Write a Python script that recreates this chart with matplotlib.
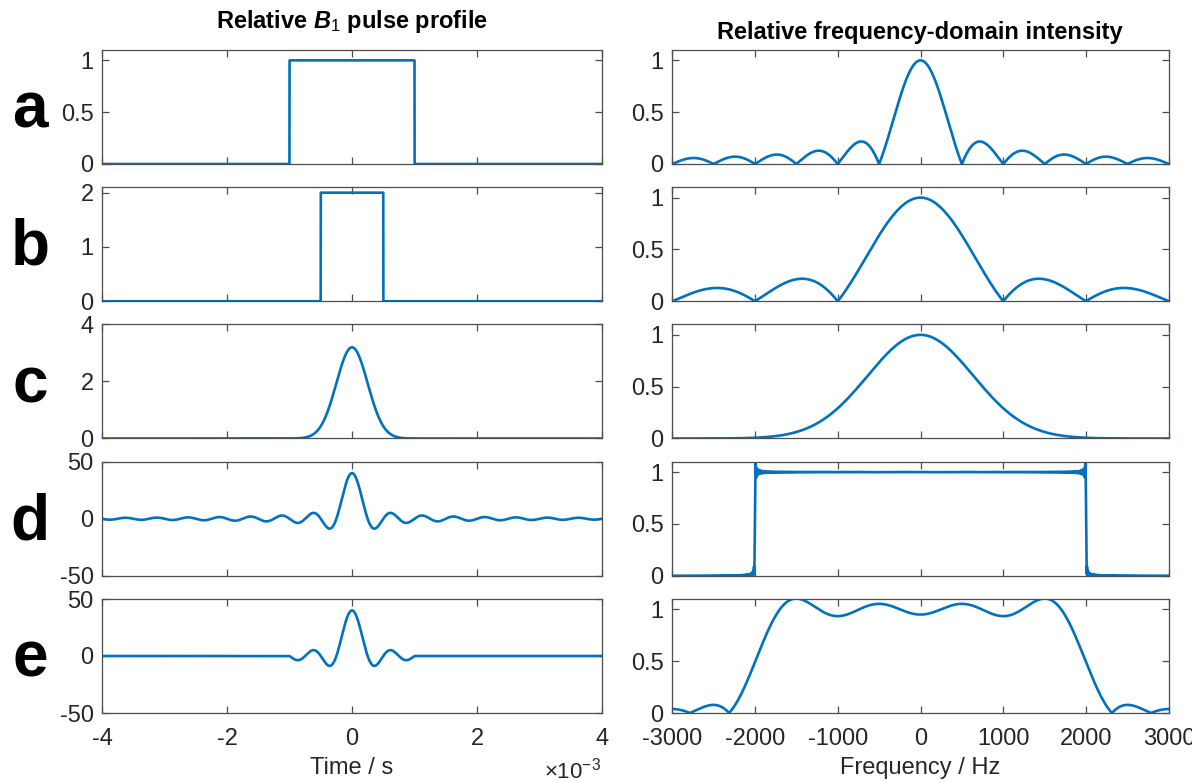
import numpy as np
import matplotlib
matplotlib.use("Agg")
import matplotlib.pyplot as plt
from matplotlib.ticker import FuncFormatter

plt.rcParams['font.family'] = ['Liberation Sans', 'DejaVu Sans']
plt.rcParams['axes.unicode_minus'] = False
plt.rcParams['mathtext.fontset'] = 'custom'
plt.rcParams['mathtext.it'] = 'Liberation Sans:italic:bold'
plt.rcParams['mathtext.rm'] = 'Liberation Sans'

# pulse parameters (seconds, Hz, relative B1 units)
rect_half_width = [1.0e-3, 0.5e-3]
rect_amp = [1.0, 2.0]
gauss_amp = 3.2
gauss_sigma = 0.25e-3
sinc_amp = 40.0
sinc_bandwidth = 4000.0
sinc_trunc = 1.0e-3
sinc_long = 50e-3   # the "untruncated" sinc runs well past the plotted window

row_letters = ['a', 'b', 'c', 'd', 'e']
left_ylims = [(0, 1.1), (0, 2.1), (0, 4), (-50, 50), (-50, 50)]
left_yticks = [[0, 0.5, 1], [0, 1, 2], [0, 2, 4], [-50, 0, 50], [-50, 0, 50]]
right_yticks = [0, 0.5, 1]
time_ticks = [-4e-3, -2e-3, 0, 2e-3, 4e-3]
freq_ticks = [-3000, -2000, -1000, 0, 1000, 2000, 3000]

dt = 1e-6
t = np.arange(-50000, 50001) * dt

sinc_full = sinc_amp * np.sinc(sinc_bandwidth * t)
pulses = [
    np.where(np.abs(t) <= rect_half_width[0], rect_amp[0], 0.0),
    np.where(np.abs(t) <= rect_half_width[1], rect_amp[1], 0.0),
    gauss_amp * np.exp(-t**2 / (2 * gauss_sigma**2)),
    np.where(np.abs(t) <= sinc_long, sinc_full, 0.0),
    np.where(np.abs(t) <= sinc_trunc, sinc_full, 0.0),
]

# spectra via zero-padded FFT
n_fft = 2**19
f = np.fft.fftshift(np.fft.fftfreq(n_fft, dt))
keep = np.abs(f) <= 3000
f = f[keep]
spectra = []
for i, p in enumerate(pulses):
    mag = np.abs(np.fft.fftshift(np.fft.fft(p, n_fft)) * dt)[keep]
    if i < 3:
        mag = mag / mag.max()
    else:
        mag = mag / (sinc_amp / sinc_bandwidth)
    spectra.append(mag)

shown = np.abs(t) <= 4e-3

W, H = 1192, 782
fig = plt.figure(figsize=(W / 100, H / 100), dpi=100)

blue = '#0072BD'
edge = '#4d4d4d'
txt = '#262626'
fs = 17


def style(ax):
    for s in ax.spines.values():
        s.set_color(edge)
        s.set_linewidth(0.9)
    ax.tick_params(direction='in', top=True, right=True, length=5, width=0.9,
                   color=edge, labelcolor=txt, labelsize=fs)
    ax.tick_params(axis='y', pad=6)
    ax.tick_params(axis='x', pad=11)


for i in range(5):
    top = 50 + i * 137.25
    axl = fig.add_axes([102 / W, 1 - (top + 114) / H, 500 / W, 114 / H])
    axr = fig.add_axes([672 / W, 1 - (top + 114) / H, 497 / W, 114 / H])

    axl.plot(t[shown], pulses[i][shown], color=blue, lw=1.9)
    axl.set_xlim(-4e-3, 4e-3)
    axl.set_ylim(*left_ylims[i])
    axl.set_yticks(left_yticks[i])
    axl.set_xticks(time_ticks)
    axl.yaxis.set_major_formatter(FuncFormatter(lambda v, p: f'{v:g}'))

    axr.plot(f, spectra[i], color=blue, lw=1.9)
    axr.set_xlim(-3000, 3000)
    axr.set_ylim(0, 1.1)
    axr.set_yticks(right_yticks)
    axr.set_xticks(freq_ticks)
    axr.yaxis.set_major_formatter(FuncFormatter(lambda v, p: f'{v:g}'))

    style(axl)
    style(axr)

    if i < 4:
        axl.set_xticklabels([])
        axr.set_xticklabels([])
    else:
        axl.xaxis.set_major_formatter(FuncFormatter(lambda v, p: f'{v * 1e3:g}'))
        axr.xaxis.set_major_formatter(FuncFormatter(lambda v, p: f'{v:g}'))
        axl.set_xlabel('Time / s', fontsize=fs, color=txt, labelpad=5)
        axr.set_xlabel('Frequency / Hz', fontsize=fs, color=txt, labelpad=5)

    axl.text(-0.144, 0.32, row_letters[i], transform=axl.transAxes,
             ha='center', va='baseline', fontsize=46, fontweight='bold', color='black')

fig.text(352 / W, 1 - 28 / H, r'Relative $B_1$ pulse profile', ha='center',
         va='baseline', fontsize=fs, fontweight='bold', color='black')
fig.text(920 / W, 1 - 39 / H, 'Relative frequency-domain intensity', ha='center',
         va='baseline', fontsize=fs, fontweight='bold', color='black')
fig.text(601 / W, 1 - 778 / H, r'$\times\mathregular{10^{-3}}$', ha='right',
         va='baseline', fontsize=16, color=txt)

fig.savefig('out.png', dpi=100)
